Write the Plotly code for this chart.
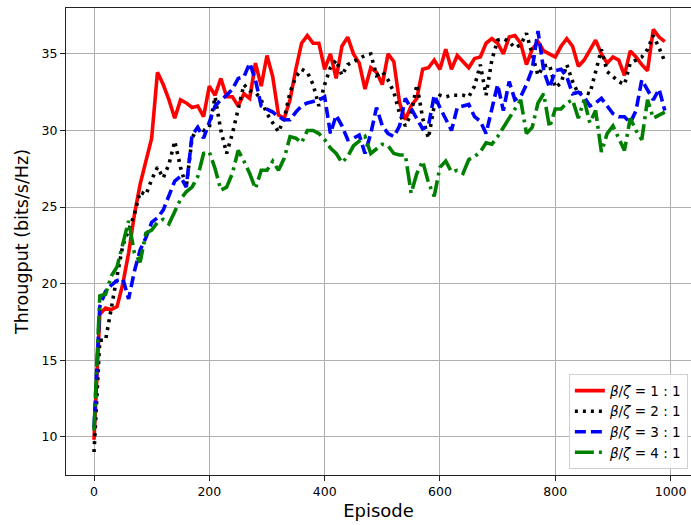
import plotly.graph_objects as go

episodes = list(range(0, 1000, 10))

thr_1_1 = [9.8, 18.0, 18.4, 18.3, 18.5, 20.0, 22.0, 24.5, 26.5, 28.0,
           29.5, 33.8, 33.0, 32.0, 30.8, 32.0, 31.8, 31.5, 31.6, 30.9,
           32.9, 32.3, 33.4, 32.2, 32.2, 31.6, 32.4, 32.1, 34.4, 32.9,
           34.9, 33.5, 31.0, 30.8, 32.0, 34.0, 35.7, 36.2, 35.7, 35.7,
           34.0, 35.0, 33.4, 35.5, 36.1, 35.0, 34.4, 32.7, 34.1, 33.8,
           33.0, 35.0, 34.5, 31.8, 30.7, 31.6, 32.1, 34.0, 34.1, 34.6,
           34.0, 35.3, 34.0, 34.9, 34.5, 34.1, 34.7, 34.8, 35.7, 36.0,
           35.7, 35.0, 36.1, 36.2, 35.7, 34.3, 35.3, 35.8, 35.2, 35.0,
           34.8, 35.5, 36.0, 35.5, 34.2, 34.6, 35.2, 35.9, 35.0, 34.4,
           34.8, 34.6, 33.6, 35.2, 34.8, 34.3, 33.9, 36.6, 36.1, 35.8]

thr_2_1 = [9.0, 16.3, 16.3, 18.5, 20.5, 22.5, 23.5, 24.5, 26.0, 25.8,
           26.8, 27.6, 26.9, 27.8, 29.3, 27.6, 26.3, 29.5, 30.2, 30.0,
           30.2, 32.2, 30.0, 28.5, 29.8, 31.5, 33.0, 32.6, 32.5, 32.0,
           31.1, 30.5, 29.9, 30.8, 32.5, 33.5, 34.0, 33.8, 33.0, 31.6,
           33.0, 34.1, 34.6, 33.6, 34.3, 34.5, 34.7, 34.9, 35.0, 33.6,
           33.85, 33.3, 32.5, 31.1, 30.3, 31.1, 33.0, 30.8, 29.5, 31.6,
           32.3, 32.2, 32.3, 32.3, 32.3, 32.2, 32.9, 34.3, 32.3, 34.6,
           35.9, 36.0, 35.8, 35.4, 35.6, 36.35, 35.05, 33.6, 34.2, 34.3,
           32.8, 33.1, 34.3, 33.2, 32.4, 32.5, 32.4, 33.85, 35.3, 33.85,
           33.5, 33.2, 33.0, 34.4, 34.6, 34.8, 35.3, 36.2, 35.4, 34.5]

thr_3_1 = [10.6, 18.5, 19.5, 19.9, 20.2, 20.3, 19.0, 20.8, 22.2, 23.0,
           24.0, 24.3, 24.8, 25.7, 26.7, 27.0, 26.3, 29.7, 30.2, 29.5,
           30.5, 31.6, 32.0, 32.3, 32.7, 33.4, 33.5, 34.4, 33.3, 31.6,
           31.4, 31.2, 30.9, 30.7, 30.7, 31.2, 31.6, 31.8, 31.9, 32.0,
           32.2, 29.8, 31.0, 30.3, 29.4, 29.5, 29.7, 28.5, 29.8, 31.5,
           30.3, 29.8, 29.6, 30.3, 32.1, 31.4, 30.8, 30.1, 30.3, 32.3,
           31.5, 30.7, 30.0, 31.5, 31.6, 31.7, 30.9, 30.6, 29.8, 31.5,
           33.0, 31.3, 33.2, 32.0, 32.2, 33.0, 34.0, 36.5, 33.9, 32.8,
           33.9, 34.0, 33.5, 32.4, 32.5, 32.2, 31.6, 31.8, 32.1, 31.6,
           31.1, 30.9, 30.9, 30.5, 31.3, 33.3, 32.7, 32.0, 32.7, 31.3]

thr_4_1 = [10.4, 19.2, 19.3, 20.5, 21.1, 22.5, 24.1, 22.0, 21.4, 23.3,
           23.5, 24.0, 24.2, 23.9, 24.7, 25.5, 26.0, 26.3, 27.0, 28.5,
           28.6, 27.5, 26.1, 26.3, 27.2, 28.7, 28.0, 27.2, 26.2, 27.4,
           27.4, 28.0, 27.4, 28.2, 29.6, 29.5, 29.2, 30.0, 30.0, 29.8,
           29.4, 28.85, 28.5, 27.9, 28.3, 29.0, 29.3, 29.6, 28.5, 28.8,
           29.1, 29.0, 28.5, 28.4, 28.4, 25.9, 27.2, 28.0, 26.6, 25.7,
           27.6, 28.0, 27.3, 27.4, 27.2, 28.1, 28.3, 28.6, 29.2, 29.1,
           29.6, 30.2, 30.8, 31.3, 32.0, 29.8, 30.2, 31.8, 32.4, 30.2,
           31.4, 31.4, 31.8, 32.0, 30.8, 32.0, 30.5, 31.3, 28.6, 29.8,
           30.3, 29.5, 28.7, 30.8, 30.0, 29.4, 32.0, 30.8, 31.0, 31.2]

series_names = ["<i>β</i>/<i>ζ</i> = 1 : 1", "<i>β</i>/<i>ζ</i> = 2 : 1",
                "<i>β</i>/<i>ζ</i> = 3 : 1", "<i>β</i>/<i>ζ</i> = 4 : 1"]
series_values = [thr_1_1, thr_2_1, thr_3_1, thr_4_1]
colors = ["#ff0000", "#000000", "#0000ff", "#008000"]
dashes = ["solid", "3px,5px", "11px,5px", "19px,5px,3px,5px"]

x_ticks = [0, 200, 400, 600, 800, 1000]
y_ticks = [10, 15, 20, 25, 30, 35]

fig = go.Figure()
for name, vals, c, d in zip(series_names, series_values, colors, dashes):
    fig.add_trace(go.Scatter(x=episodes, y=vals, mode="lines", name=name,
                             line=dict(color=c, width=3.6, dash=d)))

font_family = "DejaVu Sans"
fig.update_layout(
    width=691, height=525,
    margin=dict(l=66, r=0, t=8, b=50),
    paper_bgcolor="white", plot_bgcolor="white",
    font=dict(family=font_family, color="black", size=12.5),
    showlegend=True,
    legend=dict(x=0.995, y=0.012, xanchor="right", yanchor="bottom",
                bgcolor="rgba(255,255,255,0.85)", bordercolor="#d0d0d0",
                borderwidth=1, font=dict(family=font_family, size=13.5),
                tracegroupgap=0, itemwidth=30),
)
fig.update_xaxes(
    range=[-48.6, 1035.4], tickvals=x_ticks, ticktext=[str(t) for t in x_ticks],
    showgrid=True, gridcolor="#b0b0b0", gridwidth=1, zeroline=False,
    showline=True, linecolor="#222", linewidth=1.2, mirror=True,
    ticks="outside", ticklen=5, tickcolor="#222",
    title=dict(text="Episode", font=dict(size=18), standoff=6),
)
fig.update_yaxes(
    range=[7.5, 38.0], tickvals=y_ticks, ticktext=[str(t) for t in y_ticks],
    showgrid=True, gridcolor="#b0b0b0", gridwidth=1, zeroline=False,
    showline=True, linecolor="#222", linewidth=1.2, mirror=False,
    ticks="outside", ticklen=5, tickcolor="#222",
    title=dict(text="Througput (bits/s/Hz)", font=dict(size=17.5), standoff=8),
)
fig.write_html("out.html", config={"displayModeBar": False},
               post_script="document.body.style.margin='0';document.body.style.overflow='hidden';")
